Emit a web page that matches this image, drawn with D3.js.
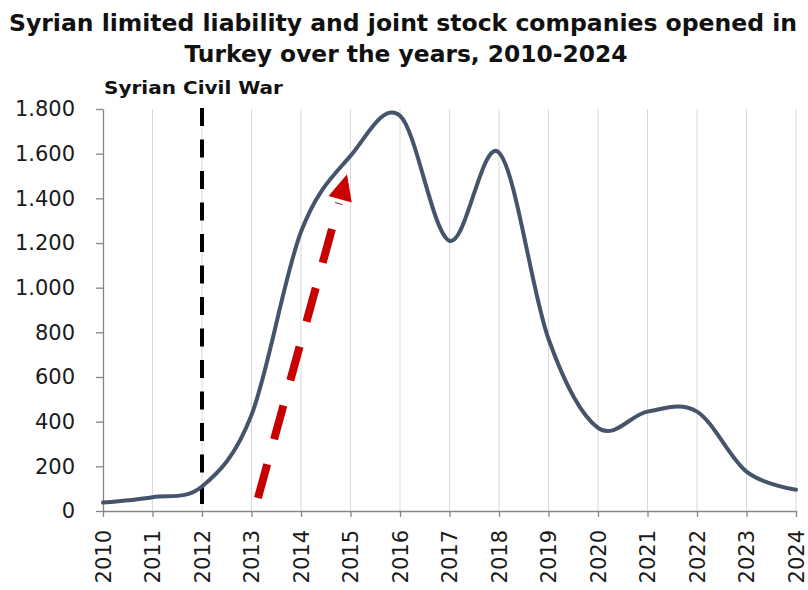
<!DOCTYPE html>
<html>
<head>
<meta charset="utf-8">
<script src="https://cdn.jsdelivr.net/npm/d3@7"></script>
<style>
  html, body { margin: 0; padding: 0; background: #fff; }
  svg { display: block; }
</style>
</head>
<body>
<svg id="chart" width="808" height="590"></svg>
<script>
// ---- data ----
const years = [2010, 2011, 2012, 2013, 2014, 2015, 2016, 2017, 2018, 2019, 2020, 2021, 2022, 2023, 2024];
const companies = [38, 62, 110, 430, 1250, 1590, 1770, 1210, 1605, 770, 372, 445, 445, 176, 95];
const yTicks = [0, 200, 400, 600, 800, 1000, 1200, 1400, 1600, 1800];
const titleLines = ["Syrian limited liability and joint stock companies opened in", "Turkey over the years, 2010-2024"];
const eventLabel = "Syrian Civil War";
const eventYear = 2012;
const arrowFrom = [2013.13, 58];
const arrowTo = [2014.93, 1508];

// ---- layout ----
const W = 808, H = 590;
const margin = { left: 103, right: 12, top: 109, bottom: 79 };
const svg = d3.select("#chart");

const x = d3.scaleLinear().domain([2010, 2024]).range([margin.left, W - margin.right]);
const y = d3.scaleLinear().domain([0, 1800]).range([H - margin.bottom, margin.top]);

const fmt = d3.formatLocale({ decimal: ",", thousands: ".", grouping: [3], currency: ["", ""] }).format(",");

// gridlines
svg.append("g").selectAll("line").data(years.slice(1)).join("line")
  .attr("x1", d => x(d)).attr("x2", d => x(d))
  .attr("y1", y(1800)).attr("y2", y(0))
  .attr("stroke", "#d9d9d9").attr("stroke-width", 1);

// axes
const yAxis = svg.append("g").attr("transform", `translate(${margin.left},0)`)
  .call(d3.axisLeft(y).tickValues(yTicks).tickFormat(fmt).tickSize(7).tickSizeOuter(0).tickPadding(21));
const xAxis = svg.append("g").attr("transform", `translate(0,${y(0)})`)
  .call(d3.axisBottom(x).tickValues(years).tickFormat(d3.format("d")).tickSize(6).tickSizeOuter(0));

[yAxis, xAxis].forEach(g => {
  g.select(".domain").attr("stroke", "#868686").attr("stroke-width", 1.3);
  g.selectAll(".tick line").attr("stroke", "#868686").attr("stroke-width", 1.3);
  g.selectAll("text").attr("font-family", "DejaVu Sans, Verdana, sans-serif").attr("font-size", 21).attr("fill", "#1a1a1a");
});
xAxis.selectAll(".tick text")
  .attr("transform", "rotate(-90)")
  .attr("text-anchor", "end")
  .attr("x", -19).attr("y", 0).attr("dy", "0.35em");

// event line
svg.append("line")
  .attr("x1", x(eventYear)).attr("x2", x(eventYear))
  .attr("y1", y(1800) - 1).attr("y2", y(0))
  .attr("stroke", "#000").attr("stroke-width", 4)
  .attr("stroke-dasharray", "18,13.5");

// data line
const line = d3.line().x((d, i) => x(years[i])).y(d => y(d)).curve(d3.curveCardinal.tension(0));
svg.append("path").datum(companies)
  .attr("d", line)
  .attr("fill", "none").attr("stroke", "#44546a").attr("stroke-width", 4)
  .attr("stroke-linecap", "round").attr("stroke-linejoin", "round");

// red dashed arrow
const ax0 = x(arrowFrom[0]), ay0 = y(arrowFrom[1]);
const ax1 = x(arrowTo[0]), ay1 = y(arrowTo[1]);
const dx = ax1 - ax0, dy = ay1 - ay0, len = Math.hypot(dx, dy);
const ux = dx / len, uy = dy / len;
const headLen = 26, headHalf = 12;
const bx = ax1 - ux * headLen, by = ay1 - uy * headLen;
svg.append("line")
  .attr("x1", ax0).attr("y1", ay0).attr("x2", bx - ux * 4).attr("y2", by - uy * 4)
  .attr("stroke", "#c80000").attr("stroke-width", 8)
  .attr("stroke-dasharray", "35,26");
svg.append("path")
  .attr("d", `M${ax1},${ay1} L${bx - uy * headHalf},${by + ux * headHalf} L${bx + uy * headHalf},${by - ux * headHalf} Z`)
  .attr("fill", "#c80000");

// titles
const titleFont = "DejaVu Sans, Verdana, sans-serif";
const t1 = svg.append("text").attr("x", 403).attr("y", 31).attr("text-anchor", "middle")
  .attr("font-family", titleFont).attr("font-weight", "bold").attr("font-size", 23).attr("fill", "#111")
  .attr("textLength", 788).attr("lengthAdjust", "spacingAndGlyphs").text(titleLines[0]);
const t2 = svg.append("text").attr("x", 406).attr("y", 62).attr("text-anchor", "middle")
  .attr("font-family", titleFont).attr("font-weight", "bold").attr("font-size", 23).attr("fill", "#111")
  .attr("textLength", 443).attr("lengthAdjust", "spacingAndGlyphs").text(titleLines[1]);

svg.append("text").attr("x", x(2010) + 1).attr("y", 94)
  .attr("font-family", titleFont).attr("font-weight", "bold").attr("font-size", 17.5).attr("fill", "#111")
  .attr("textLength", 179).attr("lengthAdjust", "spacingAndGlyphs").text(eventLabel);
</script>
</body>
</html>
